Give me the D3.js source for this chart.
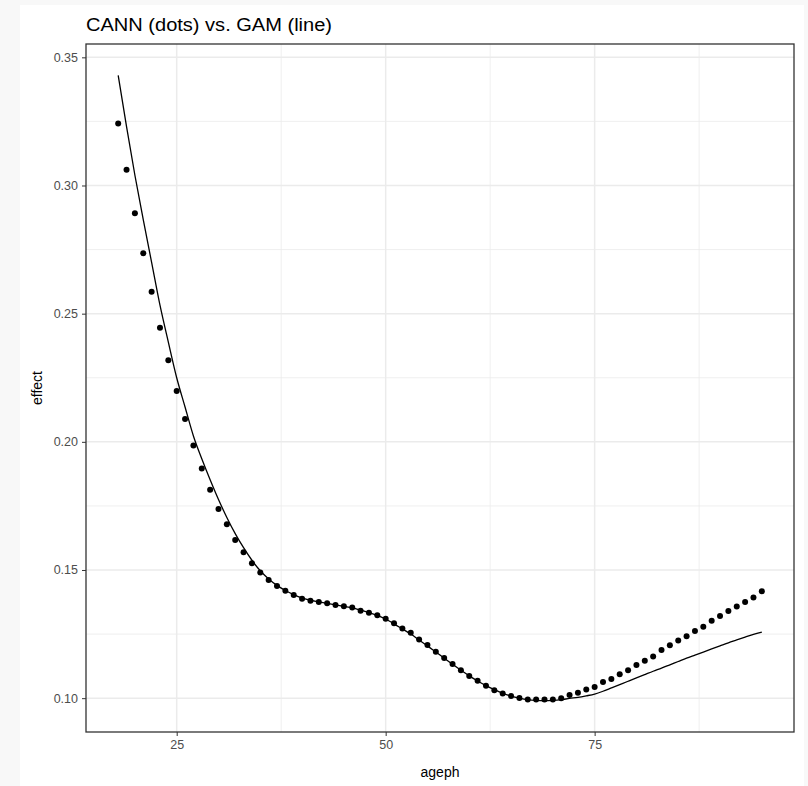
<!DOCTYPE html>
<html>
<meta charset="utf-8">
<head>
  <script src="https://cdn.jsdelivr.net/npm/d3@7"></script>
  <style>
  html, body { margin: 0; padding: 0; background: #f8f8f8; }
  body { width: 808px; height: 786px; overflow: hidden; }
  svg { display: block; }
  .tick text { fill: #4d4d4d; font: 12.5px "Liberation Sans", Arial, sans-serif; }
  .tick line { stroke: #333; }
  .axis path { display: none; }
  .title { font: 18px "Liberation Sans", Arial, sans-serif; fill: #000; }
  .lab { font: 14px "Liberation Sans", Arial, sans-serif; fill: #000; }
  </style>
</head>
<body>
<script>

// ages (one dot per year)
var ages = [18,19,20,21,22,23,24,25,26,27,28,29,30,31,32,33,34,35,36,37,38,39,40,
  41,42,43,44,45,46,47,48,49,50,51,52,53,54,55,56,57,58,59,60,61,62,63,64,65,66,
  67,68,69,70,71,72,73,74,75,76,77,78,79,80,81,82,83,84,85,86,87,88,89,90,91,92,
  93,94,95]

// CANN effect (dots)
var cann = [0.3242,0.3061,0.2892,0.2736,0.2585,0.2445,0.2318,0.2198,0.2089,0.1986,
  0.1896,0.1813,0.1738,0.1678,0.1617,0.1569,0.1526,0.1490,0.1461,0.1438,0.1419,
  0.1402,0.1388,0.1380,0.1375,0.1370,0.1363,0.1359,0.1354,0.1341,0.1333,0.1323,
  0.1310,0.1292,0.1272,0.1255,0.1229,0.1207,0.1181,0.1157,0.1133,0.1109,0.1086,
  0.1068,0.1048,0.1031,0.1018,0.1008,0.1001,0.0995,0.0995,0.0995,0.0995,0.1000,
  0.1012,0.1021,0.1034,0.1044,0.1063,0.1075,0.1093,0.1109,0.1129,0.1146,0.1163,
  0.1188,0.1206,0.1225,0.1242,0.1262,0.1279,0.1302,0.1321,0.1340,0.1358,0.1375,
  0.1393,0.1417]

// GAM effect (line)
var gam = [0.3430,0.3230,0.3040,0.2867,0.2700,0.2533,0.2389,0.2250,0.2136,0.2023,
  0.1934,0.1852,0.1775,0.1705,0.1642,0.1587,0.1538,0.1497,0.1465,0.1440,0.1420,
  0.1404,0.1391,0.1382,0.1376,0.1370,0.1364,0.1358,0.1352,0.1343,0.1334,0.1323,
  0.1309,0.1290,0.1270,0.1250,0.1227,0.1204,0.1180,0.1156,0.1132,0.1109,0.1087,
  0.1067,0.1049,0.1033,0.1019,0.1008,0.1000,0.0994,0.0991,0.0990,0.0991,0.0994,
  0.0999,0.1003,0.1009,0.1016,0.1027,0.1040,0.1053,0.1066,0.1079,0.1092,0.1105,
  0.1117,0.1130,0.1143,0.1156,0.1168,0.1180,0.1192,0.1204,0.1216,0.1227,0.1238,
  0.1249,0.1258]

var xTicks = [25, 50, 75],
    xMinor = [37.5, 62.5, 87.5],
    yTicks = [0.10, 0.15, 0.20, 0.25, 0.30, 0.35],
    yMinor = [0.125, 0.175, 0.225, 0.275, 0.325]

var W = 808, H = 786
var margin = {top: 44, right: 14, bottom: 54, left: 86},
    width = W - margin.left - margin.right,
    height = H - margin.top - margin.bottom

var svg = d3.select("body").append("svg")
    .attr("width", W)
    .attr("height", H)

// white card
svg.append("rect")
    .attr("x", 20).attr("y", 5)
    .attr("width", 784).attr("height", H - 5)
    .attr("fill", "#fff")

var g = svg.append("g")
    .attr("transform", "translate(" + margin.left + "," + margin.top + ")")

// ggplot style 5% expansion
function expand(ext) {
  var d = (ext[1] - ext[0]) * 0.05
  return [ext[0] - d, ext[1] + d]
}

var x = d3.scaleLinear()
    .domain(expand(d3.extent(ages)))
    .range([0, width])

var y = d3.scaleLinear()
    .domain(expand(d3.extent(cann.concat(gam))))
    .range([height, 0])

// grid
g.selectAll(".ygm").data(yMinor).enter().append("line")
    .attr("x1", 0).attr("x2", width)
    .attr("y1", y).attr("y2", y)
    .attr("stroke", "#ebebeb").attr("stroke-width", 0.8)
g.selectAll(".xgm").data(xMinor).enter().append("line")
    .attr("y1", 0).attr("y2", height)
    .attr("x1", x).attr("x2", x)
    .attr("stroke", "#ebebeb").attr("stroke-width", 0.8)
g.selectAll(".yg").data(yTicks).enter().append("line")
    .attr("x1", 0).attr("x2", width)
    .attr("y1", y).attr("y2", y)
    .attr("stroke", "#ebebeb").attr("stroke-width", 1.5)
g.selectAll(".xg").data(xTicks).enter().append("line")
    .attr("y1", 0).attr("y2", height)
    .attr("x1", x).attr("x2", x)
    .attr("stroke", "#ebebeb").attr("stroke-width", 1.5)

// GAM line
var line = d3.line()
    .curve(d3.curveMonotoneX)
    .x(function(d, i) { return x(ages[i]) })
    .y(function(d) { return y(d) })

g.append("path")
    .datum(gam)
    .attr("fill", "none")
    .attr("stroke", "#000")
    .attr("stroke-width", 1.3)
    .attr("d", line)

// CANN dots
g.selectAll(".dot").data(cann).enter().append("circle")
    .attr("cx", function(d, i) { return x(ages[i]) })
    .attr("cy", function(d) { return y(d) })
    .attr("r", 3)
    .attr("fill", "#000")

// panel border
g.append("rect")
    .attr("width", width).attr("height", height)
    .attr("fill", "none")
    .attr("stroke", "#333")
    .attr("stroke-width", 1.3)

// axes
g.append("g")
    .attr("class", "axis")
    .attr("transform", "translate(0," + height + ")")
    .call(d3.axisBottom(x).tickValues(xTicks).tickSize(4).tickPadding(4).tickFormat(d3.format("d")))

g.append("g")
    .attr("class", "axis")
    .call(d3.axisLeft(y).tickValues(yTicks).tickSize(4).tickPadding(4).tickFormat(d3.format(".2f")))

// labels
svg.append("text")
    .attr("class", "title")
    .attr("x", margin.left)
    .attr("y", 31)
    .attr("textLength", 246)
    .attr("lengthAdjust", "spacingAndGlyphs")
    .text("CANN (dots) vs. GAM (line)")

svg.append("text")
    .attr("class", "lab")
    .attr("x", margin.left + width / 2)
    .attr("y", 777)
    .attr("text-anchor", "middle")
    .text("ageph")

svg.append("text")
    .attr("class", "lab")
    .attr("transform", "translate(42," + (margin.top + height / 2) + ") rotate(-90)")
    .attr("text-anchor", "middle")
    .text("effect")

</script>
</body>
</html>
